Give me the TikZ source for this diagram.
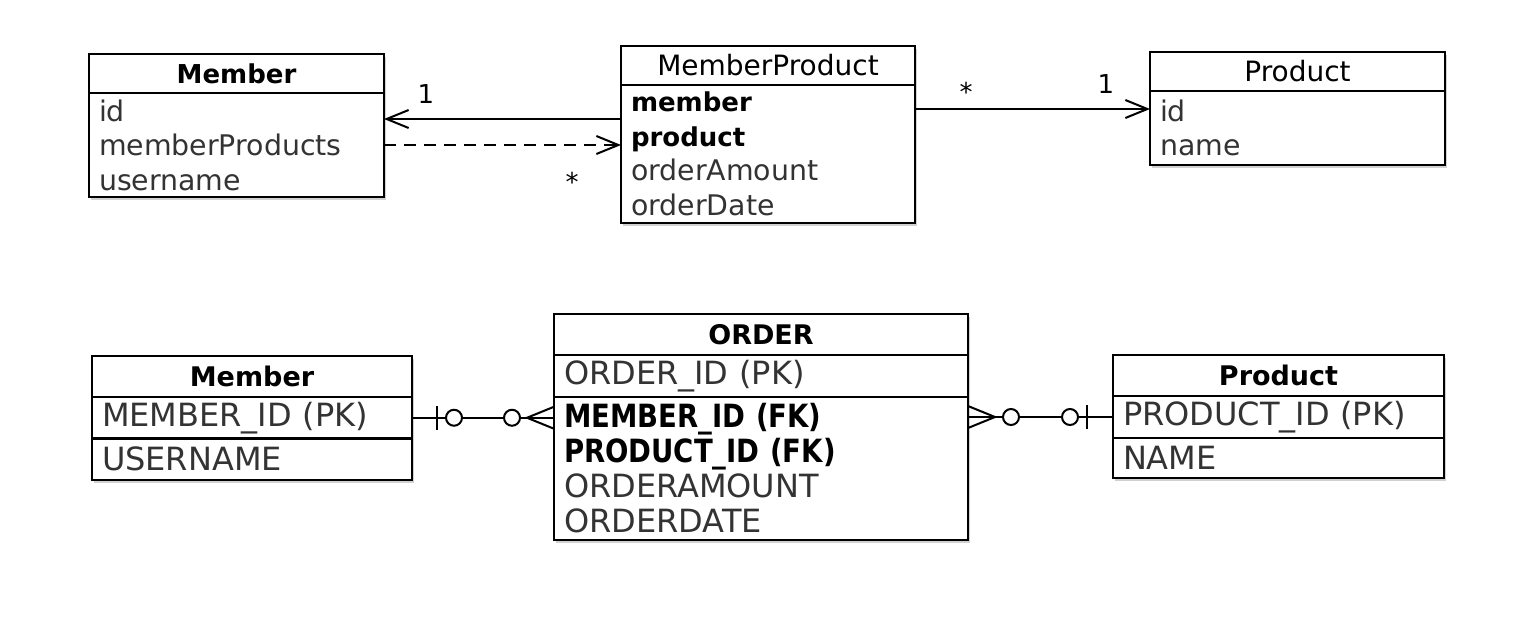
\documentclass[tikz,border=0pt]{standalone}
\usepackage{fontspec}
\setmainfont{DejaVu Sans}
\newfontfamily\erfont{DejaVu Sans}
\newfontfamily\erkeyfont[FakeStretch=0.86]{DejaVu Sans}
\usetikzlibrary{positioning,calc,arrows.meta,shadows}
\newcommand\keyattr[1]{{\fontsize{13}{17.25}\selectfont\color{black}\bfseries #1}}
\newcommand\erkey[1]{{\erkeyfont\bfseries\color{black}#1}}
\begin{document}
\begin{tikzpicture}[
x=0.5pt,y=-0.5pt,
box/.style={draw,line width=1.3pt,fill=white,outer sep=0pt,inner ysep=0pt,inner xsep=5pt,
  drop shadow={shadow xshift=1pt,shadow yshift=-1.5pt,opacity=.3,fill=black!60}},
umlhead/.style={box,minimum width=#1,minimum height=19.5pt,font=\fontsize{13}{16}\selectfont\bfseries},
umlbody/.style={box,align=left,text=black!80,font=\fontsize{14.2}{17.25}\selectfont},
erhead/.style={box,minimum width=#1,minimum height=20.5pt,font=\fontsize{13.5}{16}\selectfont\bfseries},
errow/.style={box,align=left,text=black!80,font=\erfont\fontsize{16}{17.5}\selectfont},
mult/.style={inner sep=0pt,font=\fontsize{13}{16}\selectfont},
assoc/.style={line width=1pt,-{Straight Barb[length=11pt,width=9pt]}},
erline/.style={line width=1pt}
]
\useasboundingbox (0,0) rectangle (1530,622);

% object model
\node[umlhead=147.5pt,anchor=north west] (umember) at (89,54) {Member};
\node[umlbody,text width=137.5pt,minimum height=52pt,below=0pt of umember] (umemberf)
  {id\\memberProducts\\username};

\node[umlhead=147pt,anchor=north west,font=\fontsize{14}{16}\selectfont] (ump) at (621,46) {MemberProduct};
\node[umlbody,text width=137pt,minimum height=69pt,below=0pt of ump] (umpf)
  {\keyattr{member}\\\keyattr{product}\\orderAmount\\orderDate};

\node[umlhead=147.5pt,anchor=north west,font=\fontsize{14}{16}\selectfont] (uproduct) at (1150,52) {Product};
\node[umlbody,text width=137.5pt,minimum height=37pt,below=0pt of uproduct] (uproductf)
  {id\\name};

\coordinate (m1) at ($(umemberf.east)+(0,-26)$);
\draw[assoc] (m1 -| umpf.west) -- (m1);
\draw[assoc,dash pattern=on 6pt off 4pt] (umemberf.east) -- (umemberf.east -| umpf.west);
\coordinate (p1) at ($(uproductf.north west)+(0,18)$);
\draw[assoc] (p1 -| umpf.east) -- (p1);

\node[mult] (lm1) at (426,94) {1};
\node[mult] (lmp1) at (572,182) {*};
\node[mult] (lmp2) at (966,92) {*};
\node[mult] (lp1) at (1106,84) {1};

% table model
\node[erhead=160pt,anchor=north west] (emember) at (92,356) {Member};
\node[errow,text width=150pt,minimum height=20.75pt,below=0pt of emember] (ememberid) {MEMBER\_ID (PK)};
\node[errow,text width=150pt,minimum height=20.75pt,below=0pt of ememberid] (emembername) {USERNAME};

\node[erhead=207pt,anchor=north west] (eorder) at (554,314) {ORDER};
\node[errow,text width=197pt,minimum height=21pt,below=0pt of eorder] (eorderid) {ORDER\_ID (PK)};
\node[errow,text width=197pt,minimum height=71.5pt,below=0pt of eorderid] (eorderf)
  {\erkey{MEMBER\_ID (FK)}\\\erkey{PRODUCT\_ID (FK)}\\ORDERAMOUNT\\ORDERDATE};

\node[erhead=165.5pt,anchor=north west] (eproduct) at (1113,355) {Product};
\node[errow,text width=155.5pt,minimum height=21pt,below=0pt of eproduct] (eproductid) {PRODUCT\_ID (PK)};
\node[errow,text width=155.5pt,minimum height=20pt,below=0pt of eproductid] (eproductname) {NAME};

% member -- order
\coordinate (cl) at (ememberid.east -| eorderf.west);
\draw[erline] (ememberid.east) -- (cl);
\draw[erline] ($(ememberid.east)+(25,-12)$) -- ++(0,24);
\draw[erline,fill=white] ($(ememberid.east)+(42,0)$) circle[radius=4pt];
\draw[erline,fill=white] ($(cl)+(-42,0)$) circle[radius=4pt];
\draw[erline] ($(cl)+(0,-11)$) -- ++(-27,11) -- ++(27,11);

% order -- product
\coordinate (cr) at (eproductid.west -| eorderf.east);
\draw[erline] (cr) -- (eproductid.west);
\draw[erline] ($(cr)+(0,-11)$) -- ++(27,11) -- ++(-27,11);
\draw[erline,fill=white] ($(cr)+(43,0)$) circle[radius=4pt];
\draw[erline,fill=white] ($(eproductid.west)+(-43,0)$) circle[radius=4pt];
\draw[erline] ($(eproductid.west)+(-26,-12)$) -- ++(0,24);
\end{tikzpicture}
\end{document}
